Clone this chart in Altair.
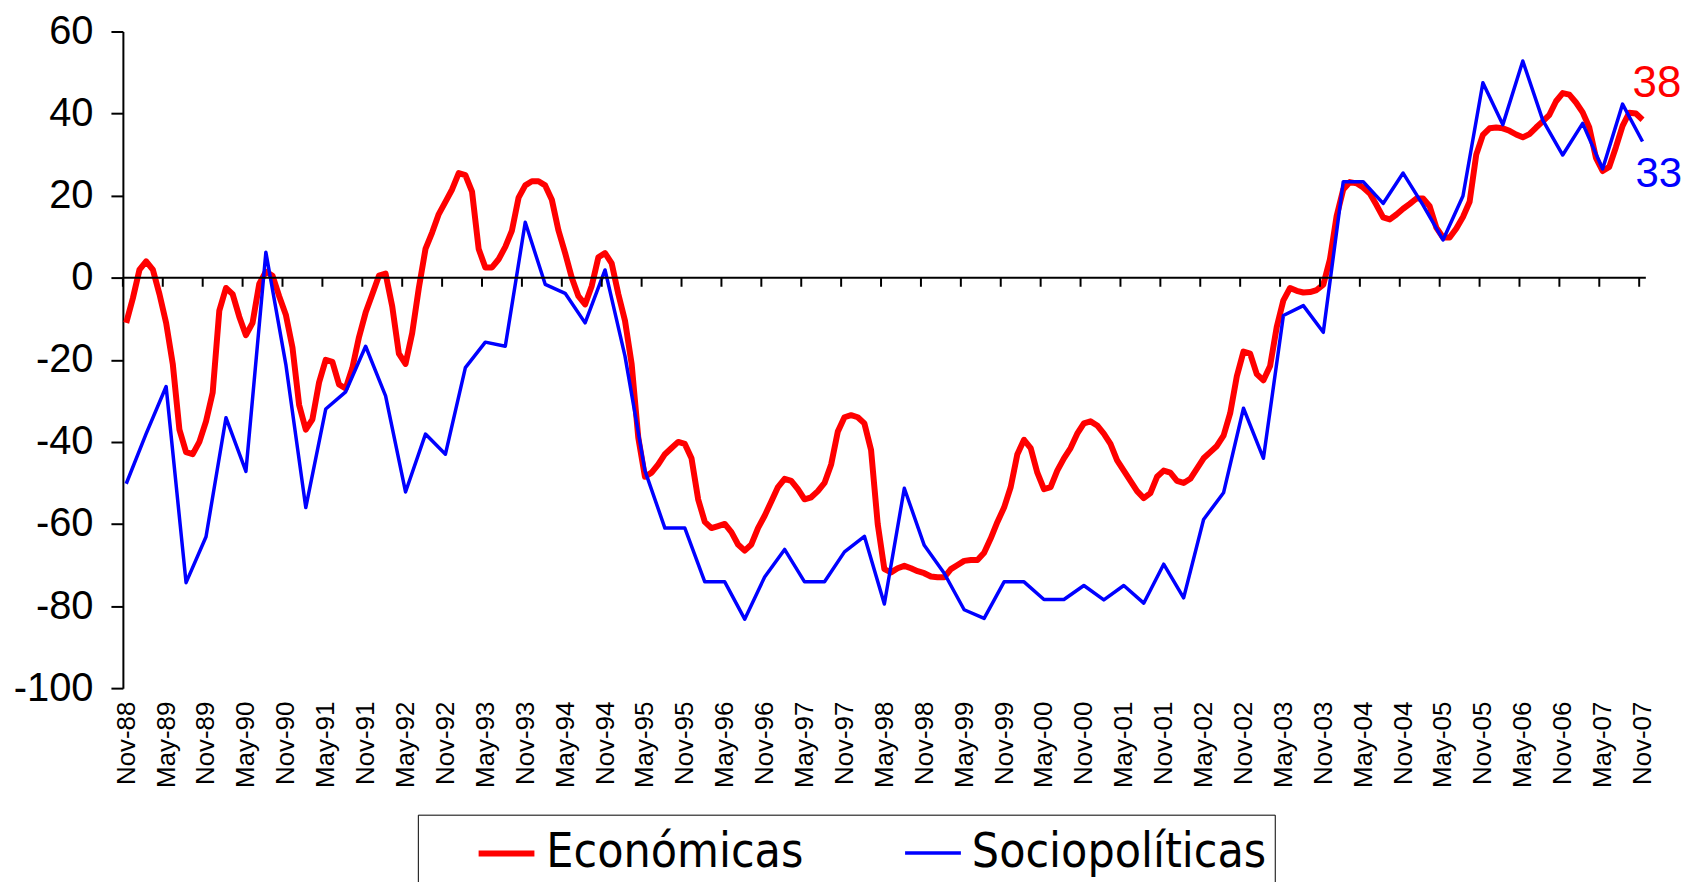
import altair as alt
import pandas as pd

# ---------------- data ----------------
series_names = ["Económicas", "Sociopolíticas"]
series_colors = ["#FF0000", "#0000FF"]

tick_labels = [
    "Nov-88", "May-89", "Nov-89", "May-90", "Nov-90", "May-91", "Nov-91", "May-92",
    "Nov-92", "May-93", "Nov-93", "May-94", "Nov-94", "May-95", "Nov-95", "May-96",
    "Nov-96", "May-97", "Nov-97", "May-98", "Nov-98", "May-99", "Nov-99", "May-00",
    "Nov-00", "May-01", "Nov-01", "May-02", "Nov-02", "May-03", "Nov-03", "May-04",
    "Nov-04", "May-05", "Nov-05", "May-06", "Nov-06", "May-07", "Nov-07",
]

# monthly, Nov-88 .. Nov-07
economicas = [
    -11, -5, 2, 4, 2, -4, -11, -21, -37, -42.5, -43, -40,
    -35, -28, -8, -2.5, -4, -9.5, -14, -11, -1.5, 1.5, 0.5, -4.5,
    -9, -17, -31, -37, -34.5, -25.5, -20, -20.5, -26, -27, -22, -14.5,
    -8.5, -4, 0.5, 1, -7, -18.5, -21, -13.5, -2.5, 7, 11, 15.5,
    18.5, 21.5, 25.5, 25, 21, 7, 2.5, 2.5, 4.5, 7.5, 11.5, 19.5,
    22.5, 23.5, 23.5, 22.5, 19, 11.5, 6, 0, -4.5, -6.5, -2, 5,
    6, 3.5, -4, -10.5, -21, -39, -48.5, -47.5, -45.5, -43, -41.5, -40,
    -40.5, -44, -54, -59.5, -61, -60.5, -60, -62, -65, -66.5, -65, -61,
    -58, -54.5, -51, -49, -49.5, -51.5, -54, -53.5, -52, -50, -45.5, -37.5,
    -34, -33.5, -34, -35.5, -42, -60, -71, -71.8, -70.8, -70.2, -70.8, -71.5,
    -72, -72.8, -73, -73, -71, -70, -69, -68.8, -68.8, -67, -63.5, -59.5,
    -56, -51, -43, -39.5, -41.5, -47.5, -51.5, -51, -47, -44, -41.5, -38,
    -35.5, -35, -36, -38, -40.5, -44.5, -47, -49.5, -52, -53.7, -52.5, -48.5,
    -47, -47.5, -49.5, -50, -49, -46.5, -44, -42.5, -41, -38.5, -33, -24,
    -18, -18.5, -23.5, -25, -21.5, -12, -5.5, -2.5, -3.2, -3.6, -3.5, -3,
    -1.7, 4.5, 15, 21.5, 23.3, 23, 22, 20.5, 17.7, 14.7, 14.2, 15.4,
    16.8, 18, 19.3, 19.3, 17.4, 12.2, 9.8, 9.8, 12, 14.8, 18.5, 30,
    34.8, 36.4, 36.6, 36.4, 35.8, 34.9, 34.2, 35, 36.6, 38.1, 39.7, 43,
    45, 44.6, 42.7, 40.3, 36.6, 29.2, 26, 27, 31.8, 37, 40.2, 40,
    38.5,
]

# quarterly, Nov-88 .. Nov-07
sociopoliticas = [
    -50.2, -38, -26.5, -74.3, -63.1, -34.1, -47.2, 6.2, -21.1, -56,
    -32, -27.8, -16.7, -28.8, -52.2, -38.1, -43, -21.9, -15.7, -16.7,
    13.5, -1.6, -3.8, -11, 1.9, -19.1, -47, -61, -61, -74.1,
    -74.1, -83.2, -72.9, -66.2, -74.1, -74.1, -66.8, -63, -79.5, -51.3,
    -65.2, -72, -80.9, -83, -74.1, -74.1, -78.4, -78.4, -75, -78.5,
    -75, -79.3, -69.8, -78, -58.9, -52.4, -31.8, -44, -9.2, -6.8,
    -13.3, 23.4, 23.4, 18.1, 25.5, 17.7, 9.2, 19.9, 47.5, 37.3,
    52.8, 38.4, 29.9, 37.6, 26.5, 42.3, 33.2,
]

# ---------------- tables ----------------
econ_df = pd.DataFrame({"m": list(range(len(economicas))), "value": economicas,
                        "serie": series_names[0]})
socio_df = pd.DataFrame({"m": [3 * i for i in range(len(sociopoliticas))],
                         "value": sociopoliticas, "serie": series_names[1]})
lines_df = pd.concat([econ_df, socio_df], ignore_index=True)

last_m = len(economicas) - 1
x_domain = [-0.5, last_m + 0.5]
y_domain = [-100, 60]

tick_df = pd.DataFrame({"m": [6 * k - 0.5 for k in range(len(tick_labels))],
                        "value": 0.0, "z2": -2.2})
zero_df = pd.DataFrame({"value": [0.0]})
end_red = pd.DataFrame({"m": [last_m], "value": [economicas[-1]],
                        "txt": [str(int(economicas[-1]))]})
end_blue = pd.DataFrame({"m": [last_m], "value": [sociopoliticas[-1]],
                         "txt": [str(int(round(sociopoliticas[-1])))]})

labels_js = "[" + ",".join("'" + t + "'" for t in tick_labels) + "]"

xscale = alt.Scale(domain=x_domain, nice=False, zero=False)
yscale = alt.Scale(domain=y_domain, nice=False, zero=False)

x_axis = alt.Axis(
    values=list(range(0, last_m + 1, 6)),
    labelExpr=labels_js + "[round(datum.value/6)]",
    labelAngle=270, ticks=False, tickSize=0, domain=False, grid=False,
    labelFontSize=26, labelFont="Liberation Sans", labelColor="black",
    labelPadding=13, labelOverlap=False, title=None)
y_axis = alt.Axis(
    values=list(range(-100, 61, 20)), tickSize=12, tickWidth=2,
    labelExpr="datum.value < 0 ? '-' + abs(datum.value) : '' + datum.value",
    tickColor="black", domainColor="black", domainWidth=2, grid=False,
    labelFontSize=40, labelFont="Liberation Sans", labelColor="black",
    labelPadding=18, title=None)

legend = alt.Legend(
    title=None, orient="none", legendX=296, legendY=786, direction="horizontal",
    symbolType="stroke", symbolSize=3136, labelFontSize=48,
    labelFont="Liberation Sans Narrow, DejaVu Sans Condensed, Liberation Sans",
    labelColor="black", labelLimit=600, labelOffset=9, columnPadding=50,
    strokeColor="black", fillColor="white", padding=8, symbolOffset=50,
)

X = lambda: alt.X("m:Q", scale=xscale, axis=x_axis)
Y = lambda: alt.Y("value:Q", scale=yscale, axis=y_axis)

lines = alt.Chart(lines_df).mark_line(strokeJoin="round").encode(
    x=X(), y=Y(),
    color=alt.Color("serie:N", scale=alt.Scale(domain=series_names, range=series_colors),
                    legend=legend),
    strokeWidth=alt.StrokeWidth("serie:N", scale=alt.Scale(type="ordinal", domain=series_names,
                                                          range=[6, 3.5]), legend=legend),
)

zero_line = alt.Chart(zero_df).mark_rule(color="black", strokeWidth=2).encode(y=Y())

zero_ticks = alt.Chart(tick_df).mark_rule(color="black", strokeWidth=2).encode(
    x=X(), y=Y(), y2="z2:Q")

txt_red = alt.Chart(end_red).mark_text(
    align="left", baseline="middle", dx=-10, dy=-36, fontSize=44,
    font="Liberation Sans", color=series_colors[0]).encode(x=X(), y=Y(), text="txt:N")

txt_blue = alt.Chart(end_blue).mark_text(
    align="left", baseline="middle", dx=-7, dy=33, fontSize=42,
    font="Liberation Sans", color=series_colors[1]).encode(x=X(), y=Y(), text="txt:N")

chart = alt.layer(lines, zero_ticks, zero_line, txt_red, txt_blue).properties(
    width=1528.4, height=659,
    autosize=alt.AutoSizeParams(type="none"),
    padding={"left": 115.3, "top": 22, "right": 38.3, "bottom": 193},
    background="white",
).configure_view(stroke=None)

chart.save("out.html", embed_options={"renderer": "svg", "actions": False})
